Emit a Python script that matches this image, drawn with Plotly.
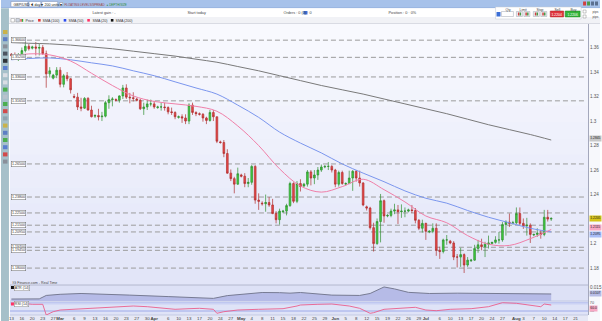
import plotly.graph_objects as go
import pandas as pd

W, H = 602, 321
def px(x): return x / W
def py(y): return 1 - y / H

FONT = "Liberation Sans, Arial, sans-serif"

# ---------------- DATA ----------------
all_days = pd.date_range("2022-02-13", "2022-08-12", freq="D")
dates = [d for d in all_days if d.dayofweek != 5]   # IG daily candles: Sun..Fri

opens = [
    1.3545, 1.3535, 1.3530, 1.3535, 1.3575, 1.3610,
    1.3595, 1.3605, 1.3595, 1.3600, 1.3550, 1.3385,
    1.3350, 1.3375, 1.3415, 1.3300, 1.3370, 1.3345,
    1.3200, 1.3195, 1.3115, 1.3105, 1.3185, 1.3090,
    1.3040, 1.3045, 1.3035, 1.3040, 1.3150, 1.3175,
    1.3175, 1.3170, 1.3205, 1.3270, 1.3195, 1.3190,
    1.3180, 1.3170, 1.3100, 1.3115, 1.3140, 1.3140,
    1.3110, 1.3115, 1.3115, 1.3110, 1.3075, 1.3070,
    1.3030, 1.3035, 1.3025, 1.3000, 1.3130, 1.3070,
    1.3060, 1.3055, 1.3025, 1.3005, 1.3070, 1.3035,
    1.2830, 1.2825, 1.2735, 1.2575, 1.2530, 1.2485,
    1.2560, 1.2550, 1.2490, 1.2500, 1.2630, 1.2355,
    1.2330, 1.2325, 1.2335, 1.2315, 1.2245, 1.2195,
    1.2260, 1.2265, 1.2310, 1.2490, 1.2345, 1.2490,
    1.2470, 1.2485, 1.2585, 1.2535, 1.2560, 1.2600,
    1.2625, 1.2630, 1.2630, 1.2600, 1.2485, 1.2580,
    1.2485, 1.2490, 1.2535, 1.2590, 1.2535, 1.2495,
    1.2300, 1.2290, 1.2130, 1.2000, 1.2180, 1.2350,
    1.2225, 1.2230, 1.2265, 1.2275, 1.2260, 1.2265,
    1.2265, 1.2275, 1.2270, 1.2190, 1.2125, 1.2165,
    1.2095, 1.2100, 1.2125, 1.1945, 1.1935, 1.2030,
    1.2020, 1.2005, 1.1890, 1.1890, 1.1910, 1.1825,
    1.1860, 1.1865, 1.1960, 1.1990, 1.1975, 1.1995,
    1.2000, 1.2010, 1.2030, 1.2030, 1.2155, 1.2175,
    1.2165, 1.2170, 1.2245, 1.2165, 1.2145, 1.2150,
    1.2070, 1.2075, 1.2085, 1.2075, 1.2215, 1.2200,
]
highs = [
    1.3555, 1.3560, 1.3555, 1.3600, 1.3640, 1.3630,
    1.3615, 1.3645, 1.3630, 1.3620, 1.3575, 1.3440,
    1.3385, 1.3440, 1.3440, 1.3385, 1.3400, 1.3350,
    1.3220, 1.3230, 1.3190, 1.3195, 1.3195, 1.3125,
    1.3055, 1.3100, 1.3075, 1.3165, 1.3210, 1.3195,
    1.3185, 1.3210, 1.3295, 1.3300, 1.3230, 1.3235,
    1.3190, 1.3180, 1.3150, 1.3175, 1.3175, 1.3165,
    1.3125, 1.3150, 1.3150, 1.3120, 1.3110, 1.3080,
    1.3045, 1.3055, 1.3055, 1.3145, 1.3150, 1.3080,
    1.3070, 1.3065, 1.3035, 1.3090, 1.3090, 1.3035,
    1.2840, 1.2845, 1.2770, 1.2605, 1.2545, 1.2620,
    1.2570, 1.2575, 1.2535, 1.2640, 1.2640, 1.2410,
    1.2345, 1.2400, 1.2380, 1.2365, 1.2265, 1.2285,
    1.2275, 1.2325, 1.2505, 1.2500, 1.2510, 1.2525,
    1.2495, 1.2600, 1.2600, 1.2600, 1.2625, 1.2645,
    1.2640, 1.2665, 1.2640, 1.2610, 1.2595, 1.2595,
    1.2500, 1.2595, 1.2600, 1.2600, 1.2595, 1.2500,
    1.2310, 1.2300, 1.2170, 1.2205, 1.2405, 1.2360,
    1.2240, 1.2285, 1.2325, 1.2315, 1.2320, 1.2295,
    1.2285, 1.2315, 1.2290, 1.2200, 1.2195, 1.2170,
    1.2110, 1.2165, 1.2165, 1.1975, 1.2040, 1.2070,
    1.2030, 1.2020, 1.1915, 1.1965, 1.1920, 1.1890,
    1.1875, 1.1990, 1.2030, 1.2040, 1.2015, 1.2065,
    1.2015, 1.2060, 1.2095, 1.2175, 1.2190, 1.2245,
    1.2185, 1.2295, 1.2295, 1.2205, 1.2210, 1.2165,
    1.2080, 1.2125, 1.2110, 1.2275, 1.2275, 1.2215,
]
lows = [
    1.3525, 1.3500, 1.3490, 1.3515, 1.3560, 1.3575,
    1.3585, 1.3535, 1.3535, 1.3540, 1.3272, 1.3355,
    1.3340, 1.3350, 1.3275, 1.3275, 1.3325, 1.3225,
    1.3185, 1.3090, 1.3080, 1.3100, 1.3085, 1.3030,
    1.3025, 1.3005, 1.3000, 1.3030, 1.3100, 1.3120,
    1.3160, 1.3150, 1.3180, 1.3180, 1.3145, 1.3160,
    1.3160, 1.3090, 1.3050, 1.3090, 1.3120, 1.3100,
    1.3100, 1.3085, 1.3085, 1.3055, 1.3050, 1.3015,
    1.3020, 1.2985, 1.2975, 1.2975, 1.3050, 1.3040,
    1.3045, 1.2995, 1.2975, 1.2995, 1.3000, 1.2820,
    1.2815, 1.2705, 1.2570, 1.2510, 1.2410, 1.2480,
    1.2540, 1.2460, 1.2460, 1.2480, 1.2325, 1.2275,
    1.2310, 1.2260, 1.2300, 1.2240, 1.2165, 1.2155,
    1.2250, 1.2230, 1.2300, 1.2330, 1.2330, 1.2425,
    1.2460, 1.2465, 1.2475, 1.2485, 1.2520, 1.2585,
    1.2615, 1.2600, 1.2580, 1.2460, 1.2465, 1.2480,
    1.2475, 1.2485, 1.2430, 1.2505, 1.2465, 1.2305,
    1.2270, 1.2115, 1.1935, 1.1990, 1.2010, 1.2170,
    1.2215, 1.2215, 1.2240, 1.2160, 1.2210, 1.2215,
    1.2255, 1.2250, 1.2165, 1.2110, 1.2090, 1.2030,
    1.2085, 1.2085, 1.1900, 1.1875, 1.1920, 1.1990,
    1.1995, 1.1865, 1.1805, 1.1810, 1.1760, 1.1810,
    1.1850, 1.1860, 1.1925, 1.1945, 1.1890, 1.1960,
    1.1995, 1.2000, 1.2000, 1.2015, 1.2065, 1.2135,
    1.2155, 1.2160, 1.2150, 1.2120, 1.2065, 1.2005,
    1.2060, 1.2055, 1.2040, 1.2060, 1.2180, 1.2185,
]
closes = [
    1.3535, 1.3530, 1.3535, 1.3575, 1.3610, 1.3590,
    1.3605, 1.3595, 1.3600, 1.3550, 1.3385, 1.3410,
    1.3375, 1.3415, 1.3300, 1.3370, 1.3345, 1.3255,
    1.3195, 1.3115, 1.3105, 1.3185, 1.3090, 1.3035,
    1.3045, 1.3035, 1.3040, 1.3150, 1.3175, 1.3180,
    1.3170, 1.3205, 1.3270, 1.3195, 1.3190, 1.3185,
    1.3170, 1.3100, 1.3115, 1.3140, 1.3140, 1.3115,
    1.3115, 1.3115, 1.3110, 1.3075, 1.3070, 1.3035,
    1.3035, 1.3025, 1.3000, 1.3130, 1.3070, 1.3060,
    1.3055, 1.3025, 1.3005, 1.3070, 1.3035, 1.2835,
    1.2825, 1.2735, 1.2575, 1.2530, 1.2485, 1.2570,
    1.2550, 1.2490, 1.2500, 1.2630, 1.2355, 1.2345,
    1.2325, 1.2335, 1.2315, 1.2245, 1.2195, 1.2265,
    1.2265, 1.2310, 1.2490, 1.2345, 1.2490, 1.2465,
    1.2485, 1.2585, 1.2535, 1.2560, 1.2600, 1.2625,
    1.2630, 1.2630, 1.2600, 1.2485, 1.2580, 1.2490,
    1.2490, 1.2535, 1.2590, 1.2535, 1.2495, 1.2315,
    1.2290, 1.2130, 1.2000, 1.2180, 1.2350, 1.2225,
    1.2230, 1.2265, 1.2275, 1.2260, 1.2265, 1.2265,
    1.2275, 1.2270, 1.2190, 1.2125, 1.2165, 1.2100,
    1.2100, 1.2125, 1.1945, 1.1935, 1.2030, 1.2030,
    1.2005, 1.1890, 1.1890, 1.1910, 1.1825, 1.1865,
    1.1865, 1.1960, 1.1990, 1.1975, 1.1995, 1.2005,
    1.2010, 1.2030, 1.2030, 1.2155, 1.2175, 1.2165,
    1.2170, 1.2245, 1.2165, 1.2145, 1.2150, 1.2075,
    1.2075, 1.2085, 1.2075, 1.2215, 1.2200, 1.2205,
]

sma_dates = ["2022-02-13", "2022-02-18", "2022-02-25", "2022-03-04", "2022-03-11", "2022-03-18",
             "2022-03-25", "2022-04-01", "2022-04-08", "2022-04-15", "2022-04-22", "2022-04-29",
             "2022-05-06", "2022-05-13", "2022-05-20", "2022-05-27", "2022-06-03", "2022-06-10",
             "2022-06-17", "2022-06-24", "2022-07-01", "2022-07-08", "2022-07-15", "2022-07-22",
             "2022-07-29", "2022-08-05", "2022-08-12"]
sma20 = [1.3530, 1.3548, 1.3540, 1.3490, 1.3390, 1.3290, 1.3205, 1.3160, 1.3140, 1.3120,
         1.3080, 1.2960, 1.2800, 1.2610, 1.2470, 1.2420, 1.2465, 1.2525, 1.2440, 1.2340,
         1.2225, 1.2170, 1.2065, 1.1995, 1.1985, 1.2040, 1.2115]
sma50 = [1.3500, 1.3510, 1.3515, 1.3500, 1.3475, 1.3450, 1.3410, 1.3370, 1.3320, 1.3270,
         1.3220, 1.3130, 1.3030, 1.2910, 1.2820, 1.2740, 1.2650, 1.2575, 1.2505, 1.2430,
         1.2370, 1.2330, 1.2270, 1.2215, 1.2170, 1.2125, 1.2095]
sma200 = [1.3640, 1.3635, 1.3630, 1.3620, 1.3605, 1.3590, 1.3570, 1.3550, 1.3530, 1.3505,
          1.3480, 1.3445, 1.3410, 1.3370, 1.3330, 1.3290, 1.3255, 1.3220, 1.3180, 1.3140,
          1.3100, 1.3060, 1.3015, 1.2970, 1.2930, 1.2890, 1.2845]

levels = [1.3660, 1.3520, 1.3360, 1.3165, 1.2650, 1.2380, 1.2250, 1.2150, 1.2095, 1.1970, 1.1945, 1.1800]

atr_dates = ["2022-02-13", "2022-02-22", "2022-02-24", "2022-03-01", "2022-03-08", "2022-03-14",
             "2022-03-24", "2022-04-06", "2022-04-17", "2022-04-21", "2022-04-26", "2022-05-02",
             "2022-05-08", "2022-05-13", "2022-05-17", "2022-05-20", "2022-05-31", "2022-06-09",
             "2022-06-13", "2022-06-17", "2022-06-21", "2022-06-26", "2022-07-03", "2022-07-12",
             "2022-07-20", "2022-07-27", "2022-08-05", "2022-08-12"]
atr_vals = [0.0076, 0.0077, 0.0098, 0.0105, 0.0110, 0.0108, 0.0100, 0.0091, 0.0086, 0.0080,
            0.0097, 0.0108, 0.0116, 0.0115, 0.0112, 0.0116, 0.0100, 0.0098, 0.0110, 0.0150,
            0.0138, 0.0117, 0.0110, 0.0112, 0.0110, 0.0112, 0.0110, 0.0107]

osc_dates = ["2022-02-13", "2022-02-16", "2022-02-20", "2022-02-23", "2022-02-24", "2022-02-27",
             "2022-03-01", "2022-03-06", "2022-03-13", "2022-03-20", "2022-03-25", "2022-03-30",
             "2022-04-01", "2022-04-08", "2022-04-13", "2022-04-17", "2022-04-21", "2022-04-22",
             "2022-04-25", "2022-04-29", "2022-05-06", "2022-05-15", "2022-05-19", "2022-05-20",
             "2022-05-26", "2022-05-31", "2022-06-06", "2022-06-09", "2022-06-13", "2022-06-14",
             "2022-06-17", "2022-06-24", "2022-06-28", "2022-07-01", "2022-07-05", "2022-07-10",
             "2022-07-17", "2022-07-22", "2022-07-27", "2022-08-01", "2022-08-05", "2022-08-09",
             "2022-08-10", "2022-08-12"]
osc_vals = [68.5, 68.5, 63.5, 63.5, 10.0, 26.5, 35.0, 38.5, 43.5, 48.5, 55.0, 51.5,
            48.5, 38.5, 41.5, 43.5, 38.5, 18.5, 26.5, 35.0, 38.5, 41.5, 55.0, 60.0,
            63.5, 65.0, 55.0, 43.5, 18.5, 21.5, 38.5, 43.5, 48.5, 35.0, 31.5, 38.5,
            41.5, 51.5, 71.5, 68.5, 60.0, 51.5, 65.0, 60.0]

price_ticks = [1.18, 1.20, 1.24, 1.26, 1.28, 1.30, 1.32, 1.34, 1.36, 1.38]

tick_dates = ["2022-02-13", "2022-02-16", "2022-02-20", "2022-02-23", "2022-02-27", "2022-03-01",
              "2022-03-06", "2022-03-09", "2022-03-13", "2022-03-16", "2022-03-20", "2022-03-23",
              "2022-03-27", "2022-03-30", "2022-04-01", "2022-04-06", "2022-04-10", "2022-04-13",
              "2022-04-17", "2022-04-20", "2022-04-24", "2022-04-27", "2022-05-01", "2022-05-04",
              "2022-05-08", "2022-05-11", "2022-05-15", "2022-05-18", "2022-05-22", "2022-05-25",
              "2022-05-29", "2022-06-01", "2022-06-05", "2022-06-08", "2022-06-12", "2022-06-15",
              "2022-06-19", "2022-06-22", "2022-06-26", "2022-06-29", "2022-07-01", "2022-07-06",
              "2022-07-10", "2022-07-13", "2022-07-17", "2022-07-20", "2022-07-24", "2022-07-27",
              "2022-08-01", "2022-08-03", "2022-08-07", "2022-08-10", "2022-08-14", "2022-08-17",
              "2022-08-21"]
tick_labels = ["13", "16", "20", "23", "27", "Mar", "6", "9", "13", "16", "20", "23", "27", "30",
               "Apr", "6", "10", "13", "17", "20", "24", "27", "May", "4", "8", "11", "15", "18",
               "22", "25", "29", "Jun", "5", "8", "12", "15", "19", "22", "26", "29", "Jul", "6",
               "10", "13", "17", "20", "24", "27", "Aug", "3", "7", "10", "14", "17", "21"]
months = {"Mar", "Apr", "May", "Jun", "Jul", "Aug"}

legend_names = ["Price", "SMA (100)", "SMA (50)", "SMA (20)", "SMA (200)"]
legend_colors = [None, "#e03c3c", "#2b4cf0", "#ff3366", "#111111"]

# ---------------- LAYOUT GEOMETRY (pixels) ----------------
X0, X1 = 9, 590
MAIN_TOP, MAIN_BOT = 24, 285
ATR_TOP, ATR_BOT = 285, 301
OSC_TOP, OSC_BOT = 301, 315

shapes = []
annotations = []

def rect(x0, y0, x1, y1, fill, line=None, lw=0.6, layer="below"):
    shapes.append(dict(type="rect", xref="paper", yref="paper",
                       x0=px(x0), x1=px(x1), y0=py(y1), y1=py(y0),
                       fillcolor=fill, layer=layer,
                       line=dict(color=line or fill, width=lw if line else 0)))

def hline(y, x0, x1, color, lw=1, dash="solid", layer="below"):
    shapes.append(dict(type="line", xref="paper", yref="paper",
                       x0=px(x0), x1=px(x1), y0=py(y), y1=py(y),
                       line=dict(color=color, width=lw, dash=dash), layer=layer))

def text(x, y, s, size=4.5, color="#444", anchor="left", bg=None, border=None, pad=0.5):
    a = dict(xref="paper", yref="paper", x=px(x), y=py(y), text=s, showarrow=False,
             xanchor=anchor, yanchor="middle", font=dict(size=size, color=color, family=FONT),
             borderpad=pad)
    if bg:
        a["bgcolor"] = bg
    if border:
        a["bordercolor"] = border
        a["borderwidth"] = 0.5
    annotations.append(a)

def lerp(c1, c2, t):
    return "#%02x%02x%02x" % tuple(int(round(a + (b - a) * t)) for a, b in zip(c1, c2))

# main panel gradient background
n = 16
top_c, bot_c = (248, 249, 254), (226, 229, 248)
for i in range(n):
    y0 = MAIN_TOP + (MAIN_BOT - MAIN_TOP) * i / n
    y1 = MAIN_TOP + (MAIN_BOT - MAIN_TOP) * (i + 1) / n + 0.5
    rect(X0, y0, X1, y1, lerp(top_c, bot_c, i / (n - 1)))
# indicator panels
rect(X0, ATR_TOP, X1, ATR_BOT, "#dde1f6")
rect(X0, OSC_TOP, X1, OSC_BOT, "#dfe3f7")
rect(X0, OSC_BOT, X1, H, "#e6e8f5")
rect(X1, 24, W, H, "#f7f8fc")
hline(ATR_TOP, X0, X1, "#a9adc4", 0.8)
hline(ATR_BOT, X0, X1, "#b3b8d6", 0.6)
hline(OSC_BOT, X0, X1, "#b3b8d6", 0.6)

# dashed price levels
for lv in levels:
    shapes.append(dict(type="line", xref="paper", yref="y", x0=px(10), x1=px(X1 - 3), y0=lv, y1=lv,
                       line=dict(color="#9b9b9b", width=1, dash="5px,3px"), layer="below"))
    annotations.append(dict(xref="paper", yref="y", x=px(10), y=lv, text=f"{lv:.5f}", showarrow=False,
                            xanchor="left", yanchor="middle", font=dict(size=3.6, color="#333", family=FONT),
                            bgcolor="white", bordercolor="#666", borderwidth=0.5, borderpad=0.4))

# oscillator reference lines
for lv in (70, 30):
    shapes.append(dict(type="line", xref="paper", yref="y3", x0=px(X0), x1=px(X1), y0=lv, y1=lv,
                       line=dict(color="#8e9ce6", width=0.8), layer="below"))
shapes.append(dict(type="rect", xref="paper", yref="y3", x0=px(X0), x1=px(X1), y0=62, y1=70,
                   fillcolor="#cbd2f4", line=dict(width=0), layer="below"))

# ---------------- HEADER / CHROME ----------------
rect(0, 0, W, 8, "#a7c2ea", layer="above")
hline(8, 0, W, "#7f9fd0", 0.6, layer="above")
rect(0, 8.3, W, 17, "#ffffff", layer="above")
rect(0, 17, W, 23.5, "#f1f2f6", layer="above")
hline(23.5, 0, W, "#c4c7d4", 0.6, layer="above")
# left toolbar
rect(0, 8.3, 8, H, "#a6c0c9", layer="above")
icon_cols = ["#c9b34a", "#5d7fc4", "#8a8f99", "#4d5560", "#2f3338", "#5b7fd0", "#d9dde3", "#d9dde3",
             "#4caf50", "#b8c2cc", "#4caf50", "#d24a4a", "#8fa3ae", "#c9b34a", "#5d7fc4", "#4caf50",
             "#5b7fd0", "#d24a4a", "#8a8f99"]
for i, c in enumerate(icon_cols):
    yy = 30 + i * 7.2
    rect(2, yy, 6.5, yy + 4, c, layer="above")

# top bar dropdowns
for (x0, x1, s) in [(10, 27, "GBP/USD ▾"), (28, 40, "1 day ▾"), (41, 57, "200 units ▾")]:
    rect(x0, 1.5, x1, 6.8, "#ffffff", "#7a8fb5", 0.5, layer="above")
    text(x0 + 1, 4.2, s, size=3.6, color="#222")
rect(59, 2.5, 62, 5.5, "#ffffff", "#777", 0.4, layer="above")
text(62.5, 4.2, "FLOATING LEVELS/SPREAD", size=3.0, color="#a04545")
text(105, 4.2, "● DEPTH/SIZE", size=3.0, color="#2e8b3a")
for i, c in enumerate(["#d04040", "#4a9a4a", "#5a6f90", "#5a6f90"]):
    rect(585 + i * 4, 1.5, 588 + i * 4, 5.5, c, layer="above")

# info row
text(90, 12.8, "Latest gain : -", size=3.8, color="#444")
text(186, 12.8, "Start today", size=3.8, color="#444")
text(282, 12.8, "Orders : 0 (0) · 0", size=3.8, color="#444")
rect(304, 11, 308, 14.5, "#3c6fd6", layer="above")
text(388, 12.8, "Position : 0 · 0%", size=3.8, color="#444")

# deal ticket
rect(497, 7, 583, 19, "#ffffff", "#c5c8d2", 0.5, layer="above")
rect(498, 12, 502, 16.5, "#3c6fd6", layer="above")
rect(503, 11.5, 515, 16.5, "#ffffff", "#8890a0", 0.4, layer="above")
text(506, 9.2, "Qty", size=3.4, color="#444")
text(520, 9.2, "Limit", size=3.4, color="#444")
text(537, 9.2, "Stop", size=3.4, color="#444")
for x0 in (518, 525.5, 535, 542.5):
    rect(x0, 11.5, x0 + 6, 16.5, "#eef0f3", "#8890a0", 0.4, layer="above")
    rect(x0 + 1.5, 12.5, x0 + 3, 15.5, "#d04040", layer="above")
    rect(x0 + 3.2, 12.5, x0 + 4.7, 15.5, "#4a9a4a", layer="above")
text(555, 9.2, "Sell", size=3.4, color="#444")
text(571, 9.2, "Buy", size=3.4, color="#444")
rect(552, 11, 565.5, 17, "#e0353d", "#a52026", 0.5, layer="above")
rect(567, 11, 582, 17, "#33b43a", "#1f7f25", 0.5, layer="above")
text(558.7, 14, f"{closes[-1] - 0.0001:.4f}", size=3.4, color="white", anchor="center")
text(574.5, 14, f"{closes[-1] + 0.0001:.4f}", size=3.4, color="white", anchor="center")
rect(585, 10, 588, 13, "#ffffff", "#777", 0.4, layer="above")
rect(585, 15, 588, 18, "#ffffff", "#777", 0.4, layer="above")
text(593, 11.5, "pips", size=3.2, color="#444")
text(593, 16.5, "pips", size=3.2, color="#444")

# legend row
rect(10, 18.5, 13.5, 22, "#ffffff", "#777", 0.4, layer="above")
rect(15, 18.5, 18.5, 22, "#cfd6e2", "#777", 0.4, layer="above")
rect(19.5, 19, 20.8, 21.8, "#e04040", layer="above")
rect(21, 19, 22.3, 21.8, "#33b43a", layer="above")
lx = 23
for name, col in zip(legend_names, legend_colors):
    if col:
        rect(lx, 19, lx + 2.6, 21.6, col, layer="above")
        lx += 3.3
    text(lx, 20.3, name, size=3.6, color="#333")
    lx += 4 + 2.05 * len(name)

# panel captions
text(10, 282.5, "IG Finance.com - Real Time", size=3.6, color="#444")
rect(10, 286, 13, 289, "#111111", layer="above")
text(13.5, 287.5, "ATR (14)", size=3.6, color="#333", bg="#ffffff", border="#888", pad=0.3)
rect(10, 302.5, 13, 305.5, "#ff3366", layer="above")
text(13.5, 304, "RSI (14)", size=3.6, color="#333", bg="#ffffff", border="#888", pad=0.3)

# right-side value tags
def tag(val, yref, s, bg, fg="#222", shift=0):
    annotations.append(dict(xref="paper", yref=yref, x=px(X1 + 0.5), y=val, text=s, showarrow=False,
                            xanchor="left", yanchor="middle", font=dict(size=3.3, color=fg, family=FONT),
                            bgcolor=bg, borderpad=0.3, yshift=shift))
tag(closes[-1], "y", f"{closes[-1]:.4f}", "#d6c419")
tag(sma20[-1], "y", f"{sma20[-1]:.4f}", "#f7a8c4", shift=2.2)
tag(sma50[-1], "y", f"{sma50[-1]:.4f}", "#a9bdf7", shift=-2.6)
tag(sma200[-1], "y", f"{sma200[-1]:.4f}", "#c7c7c7", shift=1.5)
tag(atr_vals[-1], "y2", f"{atr_vals[-1]:.4f}", "#b8bde6")
tag(osc_vals[-1], "y3", f"{osc_vals[-1]:.1f}", "#f7a8c4", shift=-3)

# ---------------- TRACES ----------------
fig = go.Figure()
fig.add_trace(go.Scatter(x=sma_dates, y=sma200, mode="lines", line=dict(color="#7a7a7a", width=1, shape="spline"),
                         hoverinfo="skip"))
fig.add_trace(go.Scatter(x=sma_dates, y=sma50, mode="lines", line=dict(color="#7b96ee", width=1, shape="spline"),
                         hoverinfo="skip"))
fig.add_trace(go.Scatter(x=sma_dates, y=sma20, mode="lines", line=dict(color="#f07fa8", width=1, shape="spline"),
                         hoverinfo="skip"))
fig.add_trace(go.Candlestick(
    x=dates, open=opens, high=highs, low=lows, close=closes,
    increasing=dict(line=dict(color="#2f8f2f", width=0.7), fillcolor="#3fcf3f"),
    decreasing=dict(line=dict(color="#b02f2f", width=0.7), fillcolor="#e84848"),
    whiskerwidth=0, name="Price"))
fig.add_trace(go.Scatter(x=atr_dates, y=atr_vals, yaxis="y2", mode="lines", fill="tozeroy",
                         fillcolor="#b6bbe7", line=dict(color="#777b93", width=1), hoverinfo="skip"))
fig.add_trace(go.Scatter(x=osc_dates, y=osc_vals, yaxis="y3", mode="lines",
                         line=dict(color="#ea5f8c", width=0.9), hoverinfo="skip"))

ticktext = [f"<b>{t}</b>" if t in months else t for t in tick_labels]
axis_common = dict(showgrid=False, zeroline=False, ticks="", fixedrange=True,
                   tickfont=dict(size=4.6, color="#555", family=FONT))

fig.update_layout(
    width=W, height=H, margin=dict(l=0, r=0, t=0, b=0),
    paper_bgcolor="white", plot_bgcolor="rgba(0,0,0,0)", showlegend=False,
    font=dict(family=FONT),
    xaxis=dict(domain=[px(X0), px(X1)], anchor="y3", type="date",
               range=["2022-02-11 14:00", "2022-08-24 14:00"],
               rangebreaks=[dict(bounds=["sat", "sun"])],
               rangeslider=dict(visible=False),
               tickvals=tick_dates, ticktext=ticktext, tickangle=0,
               **{**axis_common, "tickfont": dict(size=4.4, color="#444", family=FONT)}),
    yaxis=dict(domain=[py(MAIN_BOT), py(MAIN_TOP)], range=[1.1662, 1.3792], side="right",
               tickvals=price_ticks, ticktext=[f"{v:g}" for v in price_ticks],
               showline=True, linecolor="#a4a8bc", linewidth=1, **axis_common),
    yaxis2=dict(domain=[py(ATR_BOT), py(ATR_TOP)], range=[0.0064, 0.0162], side="right", anchor="x",
                tickvals=[0.015], ticktext=["0.015"], showline=True, linecolor="#a4a8bc", linewidth=1,
                **axis_common),
    yaxis3=dict(domain=[py(OSC_BOT), py(OSC_TOP)], range=[10, 80], side="right", anchor="x",
                tickvals=[70, 30], ticktext=["70", "30"], showline=True, linecolor="#a4a8bc", linewidth=1,
                **{**axis_common, "tickfont": dict(size=3.8, color="#555", family=FONT)}),
    shapes=shapes, annotations=annotations,
)

fig.write_html("out.html")
